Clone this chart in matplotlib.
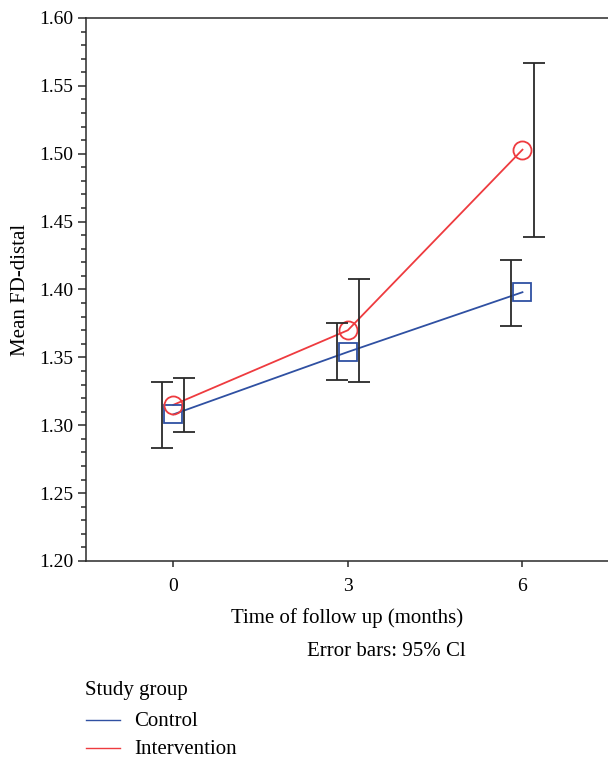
import matplotlib.pyplot as plt
from matplotlib.ticker import MultipleLocator
from matplotlib.lines import Line2D

plt.rcParams['font.family'] = ['Liberation Serif', 'DejaVu Serif']

months = [0, 3, 6]
control_mean = [1.308, 1.354, 1.398]
control_lo = [1.283, 1.333, 1.373]
control_hi = [1.332, 1.375, 1.422]
interv_mean = [1.315, 1.370, 1.503]
interv_lo = [1.295, 1.332, 1.439]
interv_hi = [1.335, 1.408, 1.567]

BLUE = "#2F50A2"
RED = "#EE3B3F"
BAR = "#2a2a2a"
TICK_FS = 14
TEXT_FS = 15

fig = plt.figure(figsize=(6.08, 7.59), dpi=100)
ax = fig.add_axes([86 / 608, 198 / 759, 1 - 86 / 608, 543 / 759])

ax.plot(months, control_mean, color=BLUE, lw=1.3, zorder=2)
ax.plot(months, interv_mean, color=RED, lw=1.3, zorder=2)
ax.plot(months, control_mean, ls="none", marker="s", ms=13, mfc="none", mec=BLUE, mew=1.3, zorder=3)
ax.plot(months, interv_mean, ls="none", marker="o", ms=13, mfc="none", mec=RED, mew=1.3, zorder=3)

# error bars are dodged a little to each side of the group means
off = 0.19
for mean, lo, hi, dx in [(control_mean, control_lo, control_hi, -off),
                         (interv_mean, interv_lo, interv_hi, off)]:
    xs = [m + dx for m in months]
    yerr = [[m - l for m, l in zip(mean, lo)], [h - m for m, h in zip(mean, hi)]]
    ax.errorbar(xs, mean, yerr=yerr, fmt="none", ecolor=BAR, elinewidth=1.3,
                capsize=7.9, capthick=1.3, zorder=4)

ax.set_xlim(-1.5, 7.47)
ax.set_ylim(1.20, 1.60)
ax.set_xticks(months)
ax.yaxis.set_major_locator(MultipleLocator(0.05))
ax.yaxis.set_minor_locator(MultipleLocator(0.01))
ax.yaxis.set_major_formatter(plt.FormatStrFormatter("%.2f"))
ax.tick_params(axis="y", which="major", length=6, width=1.1, labelsize=TICK_FS, pad=3, color=BAR)
ax.tick_params(axis="y", which="minor", length=3.5, width=1.1, color=BAR)
ax.tick_params(axis="x", which="major", length=4.5, width=1.1, labelsize=TICK_FS, pad=8, color=BAR)
for s in ["left", "bottom", "top"]:
    ax.spines[s].set_linewidth(1.1)
    ax.spines[s].set_color(BAR)
ax.spines["right"].set_visible(False)

ax.set_ylabel("Mean FD-distal", fontsize=TEXT_FS, labelpad=7)
ax.set_xlabel("Time of follow up (months)", fontsize=TEXT_FS, labelpad=9)

fig.text(466 / 608, 1 - 651 / 759, "Error bars: 95% Cl", fontsize=TEXT_FS, ha="right", va="center")
fig.text(85 / 608, 1 - 690 / 759, "Study group", fontsize=TEXT_FS, ha="left", va="center")
for y, col, lab in [(720, BLUE, "Control"), (748, RED, "Intervention")]:
    fig.add_artist(Line2D([86 / 608, 120 / 608], [1 - y / 759, 1 - y / 759], color=col, lw=1.0))
    fig.text(134 / 608, 1 - (y + 2) / 759, lab, fontsize=TEXT_FS, ha="left", va="center")

fig.savefig("out.png", dpi=100)
